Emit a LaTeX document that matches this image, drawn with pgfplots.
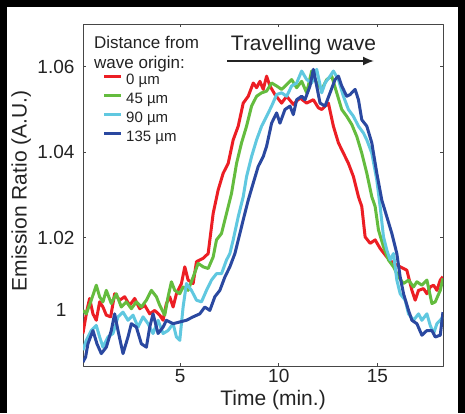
\documentclass[border=0pt]{standalone}
\usepackage{fontspec}
\setmainfont{Liberation Sans}
\usepackage{pgfplots}
\pgfplotsset{compat=1.18}
\usetikzlibrary{arrows.meta}
\definecolor{cred}{RGB}{236,30,36}
\definecolor{cgreen}{RGB}{100,188,62}
\definecolor{ccyan}{RGB}{96,200,224}
\definecolor{cblue}{RGB}{42,72,160}
\definecolor{axgray}{RGB}{70,70,70}
\definecolor{txt}{RGB}{35,35,35}
\begin{document}
\begin{tikzpicture}[x=1pt,y=1pt]
\path[use as bounding box] (0,0) rectangle (465,413);
\fill[white] (0,0) rectangle (465,413);
\begin{axis}[
  at={(83pt,47pt)}, anchor=south west,
  scale only axis, width=360pt, height=342pt,
  xmin=0.08, xmax=18.32, ymin=0.99, ymax=1.07,
  xtick={5,10,15}, ytick={1.02,1.04,1.06},
  yticklabels={1.02,1.04,1.06},
  extra y ticks={1.0031}, extra y tick labels={1},
  extra y tick style={major tick length=0pt, yticklabel style={xshift=-8pt}},
  tick align=inside, major tick length=3pt,
  axis line style={axgray, line width=1pt},
  tick style={axgray, line width=0.8pt},
  ticklabel style={font=\fontsize{19}{22}\selectfont, text=txt},
  yticklabel style={xshift=-5pt},
  /pgf/number format/assume math mode=true,
  xlabel={Time (min.)}, ylabel={Emission Ratio (A.U.)},
  label style={font=\fontsize{21}{24}\selectfont, text=txt},
  xlabel style={at={(axis description cs:0.528,-0.10)}, anchor=center},
  ylabel style={at={(axis description cs:-0.172,0.512)}, anchor=center},
  legend style={at={(axis description cs:0.0547,0.854)}, anchor=north west, draw=none, fill=none,
    inner sep=0pt, outer sep=0pt, font=\fontsize{15}{18}\selectfont, text=txt,
    row sep=5pt, column sep=3.5pt, nodes={inner sep=0pt, text height=11pt, text depth=3pt}},
  legend image code/.code={\draw[#1] (0pt,4pt) -- (17pt,4pt);},
  legend cell align=left,
  line join=round,
]
\addplot[cred, line width=3pt] coordinates {
(0.076,0.9976)(0.279,1.0030)(0.415,1.0058)(0.584,1.0022)(0.753,1.0007)(0.922,1.0050)
(1.091,1.0038)(1.261,1.0019)(1.481,1.0015)(1.684,1.0069)(1.937,1.0054)(2.191,1.0062)
(2.445,1.0042)(2.699,1.0058)(2.953,1.0034)(3.206,1.0042)(3.460,1.0022)(3.714,1.0030)
(3.968,1.0019)(4.137,1.0007)(4.306,1.0046)(4.475,1.0062)(4.645,1.0038)(4.814,1.0069)
(5.068,1.0093)(5.237,1.0132)(5.406,1.0101)(5.660,1.0093)(5.829,1.0144)(6.168,1.0152)
(6.421,1.0163)(6.675,1.0257)(6.929,1.0312)(7.183,1.0351)(7.437,1.0374)(7.690,1.0429)
(7.944,1.0461)(8.198,1.0515)(8.452,1.0531)(8.706,1.0562)(8.875,1.0551)(9.044,1.0566)
(9.213,1.0547)(9.382,1.0578)(9.552,1.0555)(9.805,1.0535)(10.144,1.0515)(10.398,1.0531)
(10.736,1.0512)(11.074,1.0527)(11.413,1.0515)(11.751,1.0523)(12.005,1.0504)(12.174,1.0500)
(12.513,1.0515)(12.766,1.0461)(13.020,1.0422)(13.274,1.0398)(13.528,1.0374)(13.782,1.0343)
(14.036,1.0296)(14.205,1.0273)(14.374,1.0202)(14.628,1.0187)(14.882,1.0195)(15.135,1.0175)
(15.474,1.0155)(15.812,1.0140)(16.151,1.0132)(16.489,1.0124)(16.743,1.0077)(16.912,1.0054)
(17.081,1.0077)(17.335,1.0081)(17.504,1.0069)(17.673,1.0085)(17.843,1.0089)(18.012,1.0077)
(18.181,1.0101)(18.316,1.0109)};
\addlegendentry{0 µm}
\addplot[cgreen, line width=3pt] coordinates {
(0.076,1.0030)(0.245,1.0022)(0.499,1.0054)(0.753,1.0089)(0.922,1.0062)(1.091,1.0050)
(1.261,1.0077)(1.514,1.0046)(1.768,1.0069)(2.022,1.0038)(2.276,1.0050)(2.530,1.0034)
(2.783,1.0050)(3.037,1.0038)(3.291,1.0054)(3.545,1.0077)(3.799,1.0062)(3.968,1.0042)
(4.222,1.0019)(4.391,1.0062)(4.560,1.0097)(4.729,1.0077)(4.983,1.0069)(5.152,1.0085)
(5.406,1.0077)(5.660,1.0108)(5.914,1.0140)(6.168,1.0132)(6.421,1.0128)(6.675,1.0155)
(6.844,1.0195)(7.098,1.0210)(7.352,1.0257)(7.606,1.0304)(7.860,1.0374)(8.113,1.0422)
(8.367,1.0461)(8.621,1.0508)(8.875,1.0531)(9.129,1.0539)(9.382,1.0543)(9.636,1.0562)
(9.890,1.0555)(10.144,1.0547)(10.398,1.0558)(10.651,1.0570)(10.905,1.0551)(11.159,1.0566)
(11.413,1.0539)(11.667,1.0590)(11.921,1.0562)(12.174,1.0547)(12.428,1.0570)(12.682,1.0578)
(12.936,1.0539)(13.190,1.0500)(13.443,1.0484)(13.697,1.0465)(13.951,1.0437)(14.205,1.0398)
(14.459,1.0351)(14.712,1.0296)(14.882,1.0273)(15.051,1.0218)(15.305,1.0179)(15.558,1.0148)
(15.812,1.0132)(16.066,1.0108)(16.320,1.0093)(16.574,1.0101)(16.827,1.0085)(16.997,1.0097)
(17.250,1.0089)(17.504,1.0101)(17.758,1.0046)(17.927,1.0050)(18.181,1.0077)(18.316,1.0105)};
\addlegendentry{45 µm}
\addplot[ccyan, line width=3pt] coordinates {
(0.076,0.9937)(0.245,0.9960)(0.499,0.9983)(0.753,0.9995)(0.922,0.9968)(1.091,0.9944)
(1.345,0.9968)(1.599,0.9976)(1.853,1.0015)(2.107,1.0026)(2.360,1.0007)(2.614,1.0019)
(2.868,0.9991)(3.122,1.0015)(3.376,0.9999)(3.629,0.9976)(3.883,1.0007)(4.137,0.9976)
(4.391,0.9983)(4.645,0.9999)(4.814,0.9968)(4.983,0.9960)(5.152,1.0038)(5.321,1.0093)
(5.575,1.0077)(5.829,1.0054)(6.083,1.0050)(6.337,1.0077)(6.591,1.0101)(6.844,1.0116)
(7.098,1.0116)(7.352,1.0148)(7.521,1.0163)(7.690,1.0195)(7.944,1.0249)(8.198,1.0296)
(8.367,1.0343)(8.621,1.0390)(8.875,1.0429)(9.129,1.0461)(9.382,1.0484)(9.636,1.0508)
(9.890,1.0535)(10.144,1.0539)(10.398,1.0531)(10.651,1.0555)(10.905,1.0562)(11.159,1.0590)
(11.413,1.0570)(11.667,1.0562)(11.921,1.0594)(12.174,1.0539)(12.343,1.0562)(12.597,1.0578)
(12.766,1.0590)(13.020,1.0570)(13.274,1.0531)(13.528,1.0500)(13.782,1.0484)(14.036,1.0461)
(14.290,1.0445)(14.459,1.0429)(14.712,1.0398)(14.966,1.0335)(15.135,1.0273)(15.305,1.0202)
(15.474,1.0171)(15.643,1.0148)(15.812,1.0163)(15.981,1.0101)(16.151,1.0069)(16.404,1.0054)
(16.574,1.0022)(16.827,1.0007)(17.081,1.0022)(17.250,1.0007)(17.504,1.0022)(17.673,0.9995)
(17.843,0.9976)(18.012,0.9999)(18.181,1.0007)(18.316,1.0015)};
\addlegendentry{90 µm}
\addplot[cblue, line width=3pt] coordinates {
(0.076,0.9909)(0.212,0.9921)(0.330,0.9952)(0.584,0.9983)(0.787,0.9952)(1.007,0.9929)
(1.261,0.9944)(1.514,0.9983)(1.684,1.0022)(1.853,0.9983)(2.107,0.9929)(2.360,0.9968)
(2.530,0.9999)(2.783,0.9991)(3.037,0.9952)(3.291,0.9944)(3.460,0.9991)(3.629,1.0022)
(3.883,0.9976)(4.137,0.9991)(4.306,1.0007)(4.645,0.9999)(4.983,1.0003)(5.321,1.0007)
(5.660,1.0015)(5.998,1.0022)(6.252,1.0038)(6.506,1.0030)(6.760,1.0062)(7.014,1.0077)
(7.267,1.0108)(7.521,1.0132)(7.775,1.0163)(8.029,1.0210)(8.198,1.0242)(8.452,1.0288)
(8.706,1.0328)(8.959,1.0367)(9.213,1.0390)(9.382,1.0414)(9.636,1.0468)(9.890,1.0492)
(10.059,1.0468)(10.313,1.0500)(10.567,1.0508)(10.736,1.0488)(10.905,1.0523)(11.159,1.0531)
(11.328,1.0523)(11.582,1.0555)(11.751,1.0594)(11.921,1.0555)(12.090,1.0515)(12.343,1.0508)
(12.597,1.0539)(12.851,1.0570)(13.020,1.0578)(13.190,1.0555)(13.443,1.0531)(13.613,1.0535)
(13.866,1.0547)(14.036,1.0523)(14.205,1.0476)(14.459,1.0461)(14.712,1.0422)(14.966,1.0351)
(15.220,1.0288)(15.474,1.0249)(15.728,1.0210)(15.981,1.0163)(16.151,1.0108)(16.320,1.0069)
(16.574,1.0030)(16.743,1.0007)(16.997,0.9999)(17.250,0.9972)(17.504,0.9983)(17.758,0.9983)
(17.927,0.9968)(18.181,0.9972)(18.316,1.0026)};
\addlegendentry{135 µm}
\end{axis}
\node[anchor=base west, inner sep=0pt, font=\fontsize{17}{20}\selectfont, text=txt] at (94,364) {Distance from};
\node[anchor=base west, inner sep=0pt, font=\fontsize{17}{20}\selectfont, text=txt] at (94,344.7) {wave origin:};
\node[anchor=base, inner sep=0pt, font=\fontsize{21}{24}\selectfont, text=txt] at (303.5,362.3) {Travelling wave};
\draw[line width=1.8pt, txt, -{Latex[length=11pt,width=9pt]}] (227,352) -- (374,352);
\fill[black] (0,406) rectangle (465,413);
\fill[black] (0,0) rectangle (7,413);
\fill[black] (458,0) rectangle (465,413);
\end{tikzpicture}
\end{document}
